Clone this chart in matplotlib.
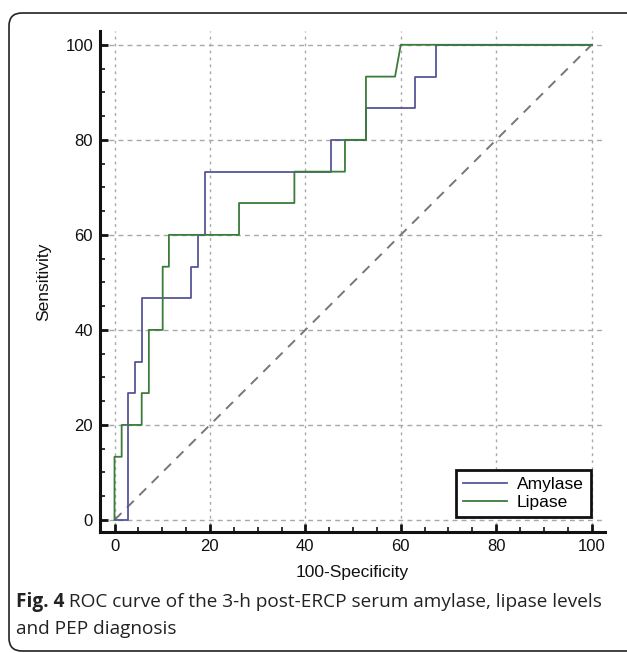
import matplotlib
matplotlib.use("Agg")
import matplotlib.pyplot as plt
from matplotlib.patches import FancyBboxPatch
from matplotlib.ticker import FixedLocator

# ---- data ----
amylase_fpr = [0, 2.8, 2.8, 4.3, 4.3, 5.7, 5.7, 16.0, 16.0, 17.4, 17.4, 19.0, 19.0,
               45.3, 45.3, 52.7, 52.7, 62.9, 62.9, 67.4, 67.4, 100]
amylase_tpr = [0, 0, 26.7, 26.7, 33.3, 33.3, 46.7, 46.7, 53.3, 53.3, 60.0, 60.0, 73.3,
               73.3, 80.0, 80.0, 86.7, 86.7, 93.3, 93.3, 100, 100]
lipase_fpr = [0, 0, 1.5, 1.5, 5.7, 5.7, 7.2, 7.2, 10.1, 10.1, 11.4, 11.4, 26.1, 26.1,
              37.7, 37.7, 48.3, 48.3, 52.7, 52.7, 58.8, 60.0, 100]
lipase_tpr = [0, 13.3, 13.3, 20.0, 20.0, 26.7, 26.7, 40.0, 40.0, 53.3, 53.3, 60.0, 60.0,
              66.7, 66.7, 73.3, 73.3, 80.0, 80.0, 93.3, 93.3, 100, 100]
ref_line = [0, 100]
major_ticks = [0, 20, 40, 60, 80, 100]
minor_ticks = [5, 10, 15, 25, 30, 35, 45, 50, 55, 65, 70, 75, 85, 90, 95]
series_names = ["Amylase", "Lipase"]
x_label = "100-Specificity"
y_label = "Sensitivity"
caption_bold = "Fig. 4"
caption_rest = " ROC curve of the 3-h post-ERCP serum amylase, lipase levels"
caption_line2 = "and PEP diagnosis"

blue = "#56569a"
green = "#3b7c3b"

plt.rcParams["font.family"] = ["Liberation Sans", "DejaVu Sans"]

fig = plt.figure(figsize=(6.27, 6.53), dpi=100)
W, H = 627, 653
l, r, b, t = 100, 605, 532, 31
ax = fig.add_axes([l / W, 1 - b / H, (r - l) / W, (b - t) / H])

ax.set_xlim(-3.04, 102.8)
ax.set_ylim(-2.53, 102.9)

# grid
ax.set_axisbelow(True)
ax.xaxis.grid(True, color="#a8a8a8", lw=1.0, dashes=(2, 3))
ax.yaxis.grid(True, color="#a8a8a8", lw=1.0, dashes=(3.5, 3))

# reference diagonal
ax.plot(ref_line, ref_line, color="#777777", lw=1.4, dashes=(5, 4), zorder=2)

ax.plot(amylase_fpr, amylase_tpr, color=blue, lw=1.3, label=series_names[0], zorder=3)
ax.plot(lipase_fpr, lipase_tpr, color=green, lw=1.3, label=series_names[1], zorder=4)

# spines
for s in ["top", "right"]:
    ax.spines[s].set_visible(False)
for s in ["left", "bottom"]:
    ax.spines[s].set_linewidth(2.2)
    ax.spines[s].set_color("#111111")

ax.xaxis.set_major_locator(FixedLocator(major_ticks))
ax.yaxis.set_major_locator(FixedLocator(major_ticks))
ax.xaxis.set_minor_locator(FixedLocator(minor_ticks))
ax.yaxis.set_minor_locator(FixedLocator(minor_ticks))
ax.tick_params(which="major", direction="in", length=6, width=2.0, color="#111111",
               labelsize=12, pad=5, labelcolor="#111111")
ax.tick_params(which="minor", direction="in", length=3.5, width=1.2, color="#111111")

ax.set_xlabel(x_label, fontsize=12.5, labelpad=8, color="#111111")
ax.set_ylabel(y_label, fontsize=12.5, labelpad=10, color="#111111")

leg = ax.legend(loc="lower right", bbox_to_anchor=(0.972, 0.030), borderaxespad=0,
                fancybox=False, fontsize=12.5, handlelength=2.5, handletextpad=0.6,
                borderpad=0.4, labelspacing=0.15, framealpha=1)
leg.get_frame().set_edgecolor("#111111")
leg.get_frame().set_linewidth(2.0)

# caption
cap_font = ["Open Sans", "DejaVu Sans"]
cap_size = 13.7
tb = fig.text(16 / W, 1 - 607 / H, caption_bold, fontsize=cap_size, fontweight="bold",
              family=cap_font, color="#222222", va="baseline", ha="left")
fig.canvas.draw()
bb = tb.get_window_extent()
fig.text(bb.x1 / W, 1 - 607 / H, caption_rest, fontsize=cap_size, family=cap_font,
         color="#222222", va="baseline", ha="left")
fig.text(16 / W, 1 - 634 / H, caption_line2, fontsize=cap_size, family=cap_font,
         color="#222222", va="baseline", ha="left")

# rounded frame around the panel
frame = FancyBboxPatch((0.09, 0.02), 6.40, 6.38,
                       boxstyle="round,pad=0,rounding_size=0.13",
                       transform=fig.dpi_scale_trans, fill=False,
                       edgecolor="#222222", lw=1.2)
fig.add_artist(frame)

fig.savefig("out.png", dpi=100)
